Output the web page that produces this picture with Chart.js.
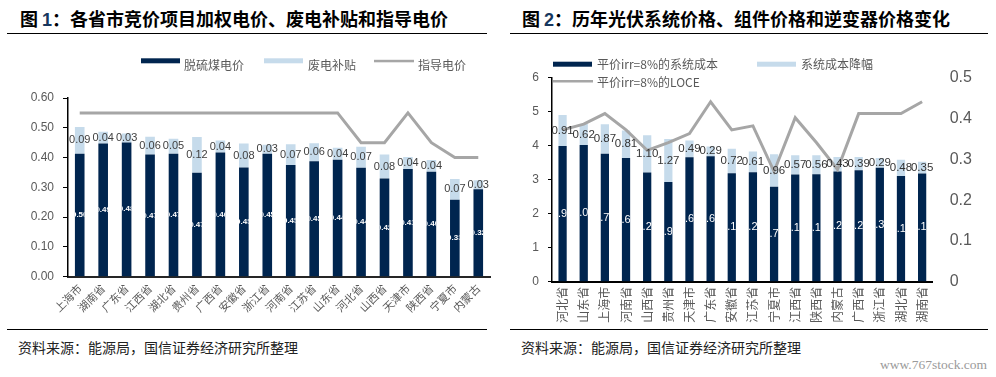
<!DOCTYPE html>
<html>
<head>
<meta charset="utf-8">
<script src="https://cdn.jsdelivr.net/npm/chart.js@4.4.1/dist/chart.umd.min.js"></script>
<style>
body{margin:0;width:996px;height:377px;background:#fff;position:relative;overflow:hidden;font-family:"Noto Sans CJK SC",sans-serif;}
.title{position:absolute;top:6px;font-size:18px;font-weight:bold;color:#000;white-space:nowrap;line-height:24px;}
.title span{color:#17375e;font-family:"Liberation Sans",Arial,sans-serif;}
.rule{position:absolute;height:1.5px;background:#000;}
.src{position:absolute;top:338px;font-size:14px;color:#222;line-height:18px;white-space:nowrap;}
.wm{position:absolute;left:880px;top:357px;font-family:"Liberation Serif",serif;font-size:13.5px;color:#9a9a9a;line-height:16px;}
canvas{position:absolute;top:40px;}
</style>
</head>
<body>
<div class="title" style="left:20px">图 <span>1</span>：各省市竞价项目加权电价、废电补贴和指导电价</div>
<div class="title" style="left:522px">图 <span>2</span>：历年光伏系统价格、组件价格和逆变器价格变化</div>
<div class="rule" style="left:7px;width:480px;top:32.5px"></div>
<div class="rule" style="left:510px;width:478px;top:32.5px"></div>
<canvas id="c1" width="498" height="288" style="left:0"></canvas>
<canvas id="c2" width="496" height="288" style="left:500px"></canvas>
<div class="rule" style="left:7px;width:480px;top:328.5px"></div>
<div class="rule" style="left:510px;width:478px;top:328.5px"></div>
<div class="src" style="left:18px">资料来源：能源局，国信证券经济研究所整理</div>
<div class="src" style="left:521px">资料来源：能源局，国信证券经济研究所整理</div>
<div class="wm">www.767stock.com</div>
<script>
// 图1 data
var provinces1 = ["上海市","湖南省","广东省","江西省","湖北省","贵州省","广西省","安徽省","浙江省","河南省","江苏省","山东省","河北省","山西省","天津市","陕西省","宁夏市","内蒙古"];
var coalPrice = [0.413,0.447,0.451,0.410,0.413,0.349,0.417,0.367,0.413,0.375,0.388,0.393,0.366,0.330,0.362,0.352,0.258,0.294];
var subsidy = [0.09,0.04,0.03,0.06,0.05,0.12,0.04,0.08,0.03,0.07,0.06,0.04,0.07,0.08,0.04,0.04,0.07,0.03];
var totalLabels = ["0.50","0.49","0.48","0.47","0.47","0.47","0.46","0.45","0.45","0.45","0.45","0.44","0.44","0.42","0.41","0.40","0.33","0.32"];
var guidePrice = [0.55,0.55,0.55,0.55,0.55,0.55,0.55,0.55,0.55,0.55,0.55,0.55,0.45,0.45,0.55,0.45,0.40,0.40];

// 图2 data
var provinces2 = ["河北省","山东省","上海市","河南省","山西省","贵州省","天津市","广东省","安徽省","江苏省","宁夏市","江西省","陕西省","内蒙古","广西省","浙江省","湖北省","湖南省"];
var systemCost = [3.99,4.02,3.76,3.64,3.21,2.93,3.66,3.69,3.19,3.22,2.79,3.15,3.16,3.24,3.28,3.35,3.11,3.18];
var costDrop = [0.91,0.62,0.87,0.81,1.10,1.27,0.49,0.29,0.72,0.61,0.96,0.57,0.56,0.43,0.39,0.29,0.48,0.35];
var lcoe = [0.372,0.386,0.412,0.372,0.322,0.341,0.363,0.441,0.372,0.382,0.270,0.402,0.341,0.275,0.412,0.412,0.412,0.441];

var NAVY = "#00254f";
var LIGHT = "#c6dbeb";
var GRAY = "#a6a6a6";
var AXIS_TEXT = "#595959";
var CJK = "'Noto Sans CJK SC', sans-serif";
var LATIN = "'Liberation Sans', Arial, sans-serif";

// labels drawn in the middle of each stacked segment
var segmentLabels = {
	id: "segmentLabels",
	afterDatasetsDraw: function(chart) {
		var ctx = chart.ctx;
		chart.data.datasets.forEach(function(ds, i) {
			if (!ds.labelFont) return;
			var meta = chart.getDatasetMeta(i);
			meta.data.forEach(function(el, j) {
				var p = el.getProps(["x", "y", "base", "width"], true);
				var text = ds.labelTexts ? ds.labelTexts[j] : ds.data[j].toFixed(2);
				ctx.save();
				if (ds.labelClip) {
					ctx.beginPath();
					ctx.rect(p.x - p.width / 2, Math.min(p.y, p.base), p.width, Math.abs(p.base - p.y));
					ctx.clip();
				}
				ctx.font = ds.labelFont;
				ctx.fillStyle = ds.labelColor;
				ctx.textAlign = "center";
				ctx.textBaseline = "middle";
				ctx.fillText(text, p.x, (p.y + p.base) / 2);
				ctx.restore();
			});
		});
	}
};

// legend placed like the original
var boxLegend = {
	id: "boxLegend",
	afterDraw: function(chart, args, opts) {
		var ctx = chart.ctx;
		ctx.save();
		opts.items.forEach(function(it) {
			var ds = chart.data.datasets[it.ds];
			ctx.fillStyle = ds.type === "line" ? ds.borderColor : ds.backgroundColor;
			ctx.fillRect(it.x, it.y, it.w, it.h);
			ctx.font = "12px " + CJK;
			ctx.fillStyle = AXIS_TEXT;
			ctx.textAlign = "left";
			ctx.textBaseline = "middle";
			ctx.fillText(ds.label, it.tx, it.ty);
		});
		ctx.restore();
	}
};

var chart1 = new Chart(document.getElementById("c1").getContext("2d"), {
	type: "bar",
	data: {
		labels: provinces1,
		datasets: [{
			label: "脱硫煤电价",
			data: coalPrice,
			backgroundColor: NAVY,
			stack: "s",
			order: 1,
			labelTexts: totalLabels,
			labelFont: "bold 8px " + LATIN,
			labelColor: "#ffffff",
			labelClip: true
		}, {
			label: "废电补贴",
			data: subsidy,
			backgroundColor: LIGHT,
			stack: "s",
			order: 1,
			labelFont: "11px " + LATIN,
			labelColor: "#404040"
		}, {
			type: "line",
			label: "指导电价",
			data: guidePrice,
			borderColor: GRAY,
			backgroundColor: GRAY,
			borderWidth: 3,
			pointRadius: 0,
			tension: 0,
			fill: false,
			order: 0
		}]
	},
	options: {
		responsive: false,
		animation: false,
		layout: {padding: {top: 58, right: 8, left: 0, bottom: 0}},
		datasets: {bar: {categoryPercentage: 1, barPercentage: 0.41}},
		plugins: {
			legend: {display: false},
			tooltip: {enabled: false},
			boxLegend: {items: [
				{ds: 0, x: 141, y: 18.3, w: 39, h: 5, tx: 184, ty: 25},
				{ds: 1, x: 264, y: 18.3, w: 39, h: 5, tx: 308, ty: 25},
				{ds: 2, x: 374, y: 19.8, w: 40, h: 2.5, tx: 418, ty: 25}
			]}
		},
		scales: {
			x: {
				stacked: true,
				grid: {display: false, drawTicks: false},
				border: {color: "#262626", width: 2},
				ticks: {color: AXIS_TEXT, font: {family: CJK, size: 11}, minRotation: 45, maxRotation: 45, padding: 5, autoSkip: false},
				afterFit: function(s) { s.height = 51.3; }
			},
			y: {
				stacked: true,
				min: 0,
				max: 0.6,
				ticks: {stepSize: 0.1, color: AXIS_TEXT, font: {family: LATIN, size: 12}, padding: 9, callback: function(v) { return v.toFixed(2); }},
				grid: {drawOnChartArea: false, tickLength: 5, color: "#000"},
				border: {color: "#000", width: 1.5},
				afterFit: function(s) { s.width = 68; }
			}
		}
	},
	plugins: [segmentLabels, boxLegend]
});

var chart2 = new Chart(document.getElementById("c2").getContext("2d"), {
	type: "bar",
	data: {
		labels: provinces2,
		datasets: [{
			label: "平价irr=8%的系统成本",
			data: systemCost,
			backgroundColor: NAVY,
			stack: "s",
			order: 1,
			labelFont: "11px " + LATIN,
			labelColor: "#ffffff",
			labelClip: true
		}, {
			label: "系统成本降幅",
			data: costDrop,
			backgroundColor: LIGHT,
			stack: "s",
			order: 1,
			labelFont: "11.5px " + LATIN,
			labelColor: "#333333"
		}, {
			type: "line",
			label: "平价irr=8%的LOCE",
			data: lcoe,
			yAxisID: "y1",
			borderColor: GRAY,
			backgroundColor: GRAY,
			borderWidth: 3,
			pointRadius: 0,
			tension: 0,
			fill: false,
			order: 0
		}]
	},
	options: {
		responsive: false,
		animation: false,
		layout: {padding: {top: 37.7, right: 0, left: 0, bottom: 0}},
		datasets: {bar: {categoryPercentage: 1, barPercentage: 0.39}},
		plugins: {
			legend: {display: false},
			tooltip: {enabled: false},
			boxLegend: {items: [
				{ds: 0, x: 53, y: 21.7, w: 39, h: 5, tx: 97, ty: 24},
				{ds: 1, x: 257, y: 21.7, w: 39, h: 5, tx: 301, ty: 24},
				{ds: 2, x: 53, y: 40, w: 40, h: 2.5, tx: 97, ty: 42}
			]}
		},
		scales: {
			x: {
				stacked: true,
				grid: {display: false, drawTicks: false},
				border: {color: "#000", width: 2},
				ticks: {color: AXIS_TEXT, font: {family: CJK, size: 12}, minRotation: 90, maxRotation: 90, padding: 5, autoSkip: false},
				afterFit: function(s) { s.height = 46.3; }
			},
			y: {
				stacked: true,
				min: 0,
				max: 6,
				ticks: {stepSize: 1, color: AXIS_TEXT, font: {family: LATIN, size: 12}, padding: 9},
				grid: {drawOnChartArea: false, tickLength: 4, color: "#000"},
				border: {color: "#000", width: 1.5},
				afterFit: function(s) { s.width = 52; }
			},
			y1: {
				position: "right",
				min: 0,
				max: 0.5,
				ticks: {stepSize: 0.1, color: AXIS_TEXT, font: {family: LATIN, size: 16}, padding: 17, callback: function(v) { return v === 0 ? "0" : v.toFixed(1); }},
				grid: {display: false, drawTicks: false},
				border: {display: false},
				afterFit: function(s) { s.width = 63.3; }
			}
		}
	},
	plugins: [segmentLabels, boxLegend]
});
</script>
</body>
</html>
